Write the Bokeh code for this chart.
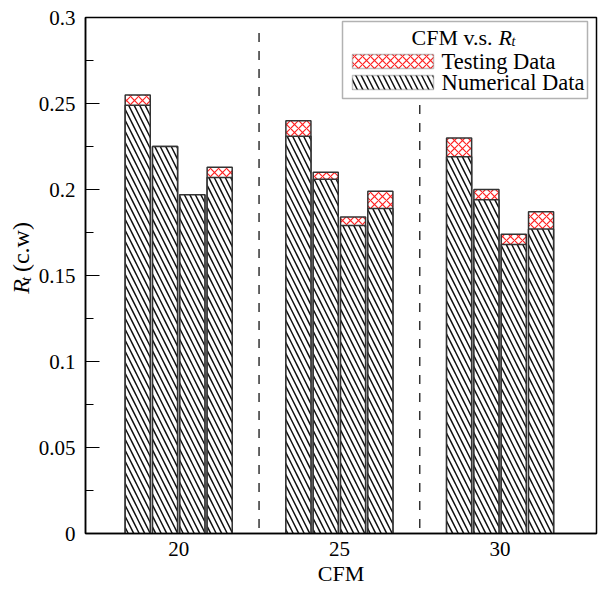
import math
from bokeh.plotting import figure
from bokeh.layouts import row
from bokeh.models import (ColumnDataSource, FixedTicker, CustomJSTickFormatter,
                          BoxAnnotation, Label, Range1d)
from bokeh.embed import file_html
from bokeh.resources import INLINE

# ---------------- data ----------------
cfm = [20, 25, 30]
tick_labels = ["20", "25", "30"]
numerical_20 = [0.249, 0.225, 0.197, 0.207]
numerical_25 = [0.231, 0.206, 0.179, 0.189]
numerical_30 = [0.219, 0.194, 0.168, 0.177]
testing_20 = [0.255, 0.225, 0.197, 0.213]
testing_25 = [0.240, 0.210, 0.184, 0.199]
testing_30 = [0.230, 0.200, 0.174, 0.187]
separators = [22.5, 27.5]

# ---------------- layout ----------------
FONT = "Liberation Serif"
X0, X1 = 17.1, 33.0
Y0, Y1 = 0.0, 0.3
LABEL_W = 34
offsets = [-1.275, -0.425, 0.425, 1.275]
bar_w = 0.78
NUM_HATCH = dict(hatch_pattern="left_diagonal_line", hatch_color="#111111",
                 hatch_scale=11, hatch_weight=1.5)
TST_HATCH = dict(hatch_pattern="diagonal_cross", hatch_color="#ff2020",
                 hatch_scale=8, hatch_weight=1.2)

xs, num, tst = [], [], []
for c, n, t in zip(cfm, [numerical_20, numerical_25, numerical_30],
                   [testing_20, testing_25, testing_30]):
    for o, nv, tv in zip(offsets, n, t):
        xs.append(c + o)
        num.append(nv)
        tst.append(tv)
src = ColumnDataSource(dict(x=xs, num=num, tst=tst))

p = figure(width=600 - LABEL_W, height=594, output_backend="svg", toolbar_location=None,
           x_range=Range1d(X0, X1), y_range=Range1d(Y0, Y1),
           min_border_left=85 - LABEL_W, min_border_right=4, min_border_top=17,
           min_border_bottom=61)
p.grid.visible = False
p.outline_line_color = "black"
p.outline_line_width = 1.5
p.background_fill_color = "white"
p.border_fill_color = "white"

# testing (red cross hatch) then numerical on top
p.vbar(x="x", top="tst", bottom=0, width=bar_w, source=src,
       fill_color="white", line_color="#333333", line_width=1.5, **TST_HATCH)
p.vbar(x="x", top="num", bottom=0, width=bar_w, source=src,
       fill_color="white", line_color="#333333", line_width=1.5, **NUM_HATCH)

p.segment(x0=separators, x1=separators, y0=[0.291] * len(separators),
          y1=[0] * len(separators), line_color="#333333", line_width=1.5,
          line_dash="9 9")

# axes
xa = p.xaxis[0]
xa.ticker = FixedTicker(ticks=cfm)
xa.major_label_overrides = {c: l for c, l in zip(cfm, tick_labels)}
xa.major_tick_in = 0
xa.major_tick_out = 0
xa.minor_tick_in = 0
xa.minor_tick_out = 0
xa.axis_line_color = "black"
xa.axis_line_width = 1.5
xa.major_label_text_font = FONT
xa.major_label_text_font_size = "21px"
xa.major_label_text_color = "black"
xa.major_label_standoff = 8
xa.axis_label = "CFM"
xa.axis_label_text_font = FONT
xa.axis_label_text_font_size = "22px"
xa.axis_label_text_font_style = "normal"
xa.axis_label_text_color = "black"
xa.axis_label_standoff = 2

ya = p.yaxis[0]
ya.ticker = FixedTicker(ticks=[0, 0.05, 0.1, 0.15, 0.2, 0.25, 0.3],
                        minor_ticks=[0.025, 0.075, 0.125, 0.175, 0.225, 0.275])
ya.formatter = CustomJSTickFormatter(
    code="return tick.toFixed(2).replace(/0+$/, '').replace(/\\.$/, '')")
ya.major_tick_in = 14
ya.major_tick_out = 0
ya.minor_tick_in = 8
ya.minor_tick_out = 0
ya.major_tick_line_width = 1.2
ya.minor_tick_line_width = 1.2
ya.axis_line_color = "black"
ya.axis_line_width = 1.5
ya.major_label_text_font = FONT
ya.major_label_text_font_size = "21px"
ya.major_label_text_color = "black"
ya.major_label_standoff = 10


def dx(px):
    return X0 + (px - 85) * (X1 - X0) / 511.0


def dy(py):
    return Y1 - (py - 17) * (Y1 - Y0) / 516.0


# legend
p.add_layout(BoxAnnotation(left=dx(342), right=dx(587), top=dy(21), bottom=dy(98),
                           fill_color="white", fill_alpha=1, line_color="black",
                           line_width=1.5))
p.add_layout(BoxAnnotation(left=dx(352), right=dx(433), top=dy(54), bottom=dy(68),
                           fill_color="white", fill_alpha=1, line_color="#333333",
                           line_width=1.5, **TST_HATCH))
p.add_layout(BoxAnnotation(left=dx(352), right=dx(433), top=dy(75), bottom=dy(89),
                           fill_color="white", fill_alpha=1, line_color="#333333",
                           line_width=1.5, **NUM_HATCH))
p.add_layout(Label(x=dx(441), y=dy(61), text="Testing Data", text_font=FONT,
                   text_font_size="22.5px", text_align="left", text_baseline="middle",
                   text_color="black"))
p.add_layout(Label(x=dx(441), y=dy(82), text="Numerical Data", text_font=FONT,
                   text_font_size="22.5px", text_align="left", text_baseline="middle",
                   text_color="black"))
tx = 411
p.add_layout(Label(x=dx(tx), y=dy(37), text="CFM v.s.", text_font=FONT,
                   text_font_size="22px", text_align="left", text_baseline="middle",
                   text_color="black"))
p.add_layout(Label(x=dx(tx + 87), y=dy(37), text="R", text_font=FONT,
                   text_font_size="22px", text_font_style="italic",
                   text_align="left", text_baseline="middle", text_color="black"))
p.add_layout(Label(x=dx(tx + 100), y=dy(41), text="t", text_font=FONT,
                   text_font_size="14px", text_font_style="italic",
                   text_align="left", text_baseline="middle", text_color="black"))

# y axis title panel: R_t (c.w), rotated (pixel-like coordinates, y from top)
lab = figure(width=LABEL_W, height=594, output_backend="svg", toolbar_location=None,
             x_range=Range1d(0, LABEL_W), y_range=Range1d(594, 0),
             min_border=0, min_border_left=0, min_border_right=0,
             min_border_top=0, min_border_bottom=0)
lab.axis.visible = False
lab.grid.visible = False
lab.outline_line_color = None
lab.background_fill_color = "white"
lab.border_fill_color = "white"
yl_x = 20
yl_bottom = 318
lab.add_layout(Label(x=yl_x, y=yl_bottom, text="R", angle=math.pi / 2,
                     text_font=FONT, text_font_size="24px", text_font_style="italic",
                     text_align="left", text_baseline="middle", text_color="black"))
lab.add_layout(Label(x=yl_x + 5, y=yl_bottom - 14.5, text="t", angle=math.pi / 2,
                     text_font=FONT, text_font_size="15px", text_font_style="italic",
                     text_align="left", text_baseline="middle", text_color="black"))
lab.add_layout(Label(x=yl_x, y=yl_bottom - 25, text="(c.w)", angle=math.pi / 2,
                     text_font=FONT, text_font_size="24px", text_font_style="normal",
                     text_align="left", text_baseline="middle", text_color="black"))

layout = row(lab, p, spacing=0)
open("out.html", "w").write(file_html(layout, INLINE))
